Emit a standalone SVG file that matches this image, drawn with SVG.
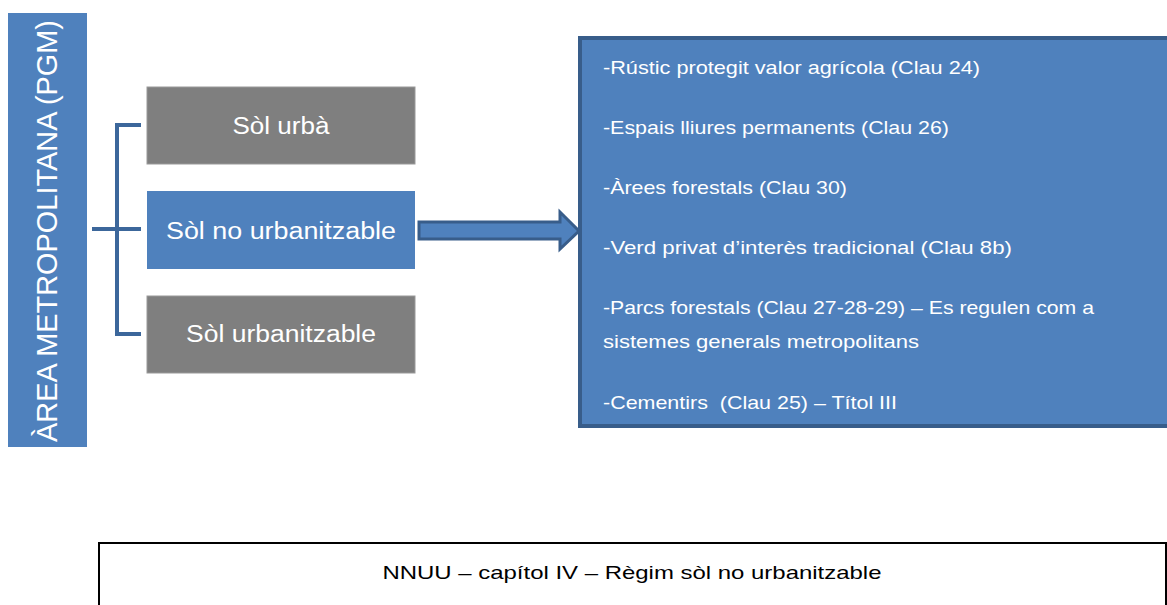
<svg xmlns="http://www.w3.org/2000/svg" width="1167" height="605" viewBox="0 0 1167 605">
<style>
.t{font-family:"Liberation Sans",Arial,sans-serif;fill:#ffffff}
.k{font-family:"Liberation Sans",Arial,sans-serif;fill:#000000}
.blue{fill:#4f81bd}
.gray{fill:#7f7f7f;stroke:#9a9a9a;stroke-width:1}
.br{fill:none;stroke:#3c679b;stroke-width:4}
</style>
<rect width="1167" height="605" fill="#ffffff"/>
<g id="area">
<rect x="8" y="13" width="79" height="434" class="blue"/>
<text class="t" font-size="29" text-anchor="middle" transform="translate(57,231) rotate(-90)" textLength="422" lengthAdjust="spacingAndGlyphs">ÀREA METROPOLITANA (PGM)</text>
</g>
<g id="connectors">
<path class="br" d="M92,229 H117 M141,125 H117 V334 H141 M117,229 H141"/>
<path d="M419,222 H560 V212 L579,231 L560,249 V239 H419 Z" fill="#4f81bd" stroke="#385d8a" stroke-width="3" stroke-linejoin="miter"/>
</g>
<g id="sol-urba">
<rect x="147" y="87" width="268" height="77" class="gray"/>
<text class="t" font-size="23" x="281" y="134" text-anchor="middle" textLength="97" lengthAdjust="spacingAndGlyphs">Sòl urbà</text>
</g>
<g id="sol-no-urbanitzable">
<rect x="147" y="191" width="268" height="78" class="blue"/>
<text class="t" font-size="23" x="281" y="239" text-anchor="middle" textLength="230" lengthAdjust="spacingAndGlyphs">Sòl no urbanitzable</text>
</g>
<g id="sol-urbanitzable">
<rect x="147" y="296" width="268" height="77" class="gray"/>
<text class="t" font-size="23" x="281" y="342" text-anchor="middle" textLength="190" lengthAdjust="spacingAndGlyphs">Sòl urbanitzable</text>
</g>
<g id="llista">
<rect x="580" y="38" width="600" height="388" class="blue" stroke="#385d8a" stroke-width="4"/>
<g class="t" font-size="18.5">
<text x="603" y="74" textLength="377" lengthAdjust="spacingAndGlyphs">-Rústic protegit valor agrícola (Clau 24)</text>
<text x="603" y="134" textLength="346" lengthAdjust="spacingAndGlyphs">-Espais lliures permanents (Clau 26)</text>
<text x="603" y="194" textLength="244" lengthAdjust="spacingAndGlyphs">-Àrees forestals (Clau 30)</text>
<text x="603" y="254" textLength="409" lengthAdjust="spacingAndGlyphs">-Verd privat d’interès tradicional (Clau 8b)</text>
<text x="603" y="314" textLength="491" lengthAdjust="spacingAndGlyphs">-Parcs forestals (Clau 27-28-29) – Es regulen com a</text>
<text x="603" y="348" textLength="316" lengthAdjust="spacingAndGlyphs">sistemes generals metropolitans</text>
<text x="603" y="409" textLength="294" lengthAdjust="spacingAndGlyphs" xml:space="preserve">-Cementirs  (Clau 25) – Títol III</text>
</g>
</g>
<g id="nnuu">
<rect x="99" y="543" width="1067" height="70" fill="#ffffff" stroke="#000000" stroke-width="2"/>
<text class="k" font-size="18.5" x="632" y="579" text-anchor="middle" textLength="499" lengthAdjust="spacingAndGlyphs">NNUU – capítol IV – Règim sòl no urbanitzable</text>
</g>
</svg>
